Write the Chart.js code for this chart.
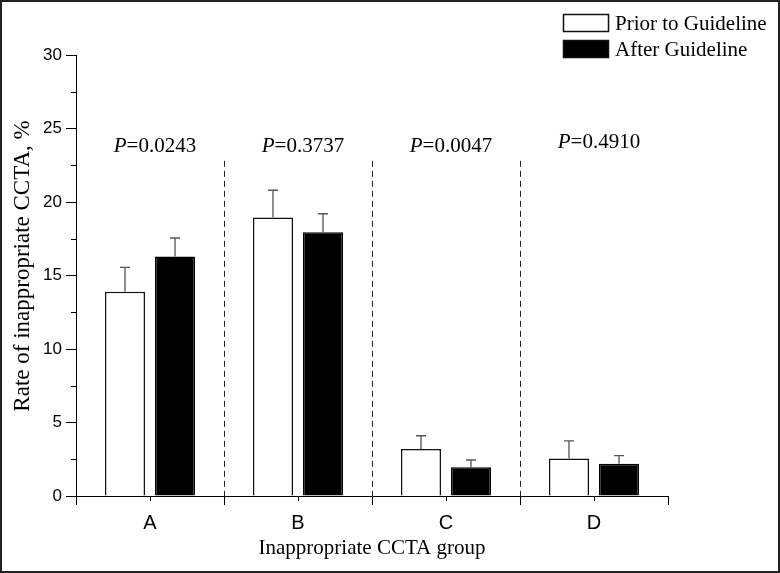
<!DOCTYPE html>
<html>
<head>
<meta charset="utf-8">
<script src="https://cdn.jsdelivr.net/npm/chart.js@4/dist/chart.umd.min.js"></script>
<style>
  html, body { margin: 0; padding: 0; background: #fff; }
  #wrap { width: 780px; height: 573px; }
</style>
</head>
<body>
<div id="wrap"><canvas id="c" width="780" height="573"></canvas></div>
<script>
// ---- data ----
const categories = ['A', 'B', 'C', 'D'];
const seriesNames = ['Prior to Guideline', 'After Guideline'];
const priorValues = [13.9, 18.95, 3.2, 2.55];
const afterValues = [16.3, 17.95, 1.95, 2.2];
const priorErrors = [1.65, 1.85, 0.9, 1.2];
const afterErrors = [1.25, 1.25, 0.5, 0.55];
const pLabels = ['0.0243', '0.3737', '0.0047', '0.4910'];
const pLabelLevel = [23.4, 23.4, 23.4, 23.7];
const yTicks = [0, 5, 10, 15, 20, 25, 30];
const yMinorTicks = [2.5, 7.5, 12.5, 17.5, 22.5, 27.5];
const dividerTop = 22.8;
const yTitle = 'Rate of inappropriate CCTA, %';
const xTitle = 'Inappropriate CCTA group';

const SERIF = '"Liberation Serif", "Times New Roman", serif';
const SANS = '"Liberation Sans", Arial, sans-serif';

const decor = {
  id: 'decor',
  afterDatasetsDraw(chart) {
    const ctx = chart.ctx;
    const x = chart.scales.x, y = chart.scales.y;
    const area = chart.chartArea;
    ctx.save();

    // error bars (upper only, with cap)
    const errSets = [priorErrors, afterErrors];
    chart.data.datasets.forEach((ds, di) => {
      const meta = chart.getDatasetMeta(di);
      meta.data.forEach((bar, i) => {
        const top = y.getPixelForValue(ds.data[i] + errSets[di][i]);
        const base = y.getPixelForValue(ds.data[i]);
        ctx.strokeStyle = '#555';
        ctx.lineWidth = 1.3;
        ctx.beginPath();
        ctx.moveTo(bar.x, base);
        ctx.lineTo(bar.x, top);
        ctx.moveTo(bar.x - 5, top);
        ctx.lineTo(bar.x + 5, top);
        ctx.stroke();
      });
    });

    // dashed dividers between groups
    ctx.strokeStyle = '#222';
    ctx.lineWidth = 1;
    ctx.setLineDash([6, 4]);
    for (let i = 0; i < categories.length - 1; i++) {
      const bx = Math.round((x.getPixelForValue(i) + x.getPixelForValue(i + 1)) / 2) + 0.5;
      ctx.beginPath();
      ctx.moveTo(bx, y.getPixelForValue(dividerTop));
      ctx.lineTo(bx, area.bottom);
      ctx.stroke();
    }
    ctx.setLineDash([]);

    // short ticks at category centres
    ctx.strokeStyle = '#000';
    ctx.lineWidth = 1;
    categories.forEach((c, i) => {
      const cx = Math.round(x.getPixelForValue(i)) + 0.5;
      ctx.beginPath();
      ctx.moveTo(cx, area.bottom);
      ctx.lineTo(cx, area.bottom + 5);
      ctx.stroke();
    });

    // minor y ticks
    yMinorTicks.forEach(v => {
      const py = Math.round(y.getPixelForValue(v)) + 0.5;
      ctx.beginPath();
      ctx.moveTo(area.left - 5, py);
      ctx.lineTo(area.left, py);
      ctx.stroke();
    });

    // P-value annotations
    ctx.fillStyle = '#000';
    ctx.textBaseline = 'alphabetic';
    categories.forEach((c, i) => {
      const italic = 'italic 21px ' + SERIF;
      const normal = '21px ' + SERIF;
      ctx.font = italic;
      const w1 = ctx.measureText('P').width;
      ctx.font = normal;
      const rest = '=' + pLabels[i];
      const w2 = ctx.measureText(rest).width;
      const cx = x.getPixelForValue(i) + 5;
      const left = cx - (w1 + w2) / 2;
      const py = y.getPixelForValue(pLabelLevel[i]);
      ctx.textAlign = 'left';
      ctx.font = italic;
      ctx.fillText('P', left, py);
      ctx.font = normal;
      ctx.fillText(rest, left + w1, py);
    });

    // y-axis title
    ctx.save();
    ctx.translate(23, 266);
    ctx.rotate(-Math.PI / 2);
    ctx.font = '23px ' + SERIF;
    ctx.textAlign = 'center';
    ctx.textBaseline = 'middle';
    ctx.fillText(yTitle, 0, 0);
    ctx.restore();

    // legend
    const legendRows = [{ y: 14, t: 30 }, { y: 40, t: 56 }];
    chart.data.datasets.forEach((ds, di) => {
      const r = legendRows[di];
      ctx.fillStyle = ds.backgroundColor;
      ctx.fillRect(563, r.y, 46, 18);
      ctx.strokeStyle = '#111';
      ctx.lineWidth = 1.5;
      ctx.strokeRect(563.5, r.y + 0.5, 45, 17);
      ctx.fillStyle = '#000';
      ctx.font = '21px ' + SERIF;
      ctx.textAlign = 'left';
      ctx.textBaseline = 'alphabetic';
      ctx.fillText(ds.label, 615, r.t);
    });

    // outer frame
    ctx.strokeStyle = '#222';
    ctx.lineWidth = 2;
    ctx.strokeRect(1, 1, 778, 571);
    ctx.restore();
  }
};

new Chart(document.getElementById('c'), {
  type: 'bar',
  data: {
    labels: categories,
    datasets: [
      { label: seriesNames[0], data: priorValues, backgroundColor: '#ffffff', borderColor: '#111', borderWidth: 1.5 },
      { label: seriesNames[1], data: afterValues, backgroundColor: '#000000', borderColor: '#000', borderWidth: 1.5 }
    ]
  },
  options: {
    responsive: false,
    animation: false,
    devicePixelRatio: 1,
    categoryPercentage: 0.676,
    barPercentage: 0.8,
    layout: { padding: { left: 0, top: 55, right: 112, bottom: 0 } },
    plugins: { legend: { display: false }, tooltip: { enabled: false } },
    scales: {
      x: {
        afterFit: s => { s.height = 77; },
        grid: { offset: true, drawOnChartArea: false, drawTicks: true, tickLength: 9, color: '#000', lineWidth: 1 },
        border: { display: true, color: '#000', width: 1 },
        ticks: { color: '#000', font: { family: SANS, size: 20 }, padding: 6 },
        title: { display: true, text: xTitle, color: '#000', font: { family: SERIF, size: 21 }, padding: { top: 0, bottom: 12 } }
      },
      y: {
        min: 0, max: 30,
        afterFit: s => { s.width = 76; },
        afterBuildTicks: s => { s.ticks = yTicks.map(v => ({ value: v })); },
        grid: { drawOnChartArea: false, drawTicks: true, tickLength: 10, color: '#000', lineWidth: 1 },
        border: { display: true, color: '#000', width: 1 },
        ticks: { color: '#000', font: { family: SANS, size: 17 }, padding: 4 }
      }
    }
  },
  plugins: [decor]
});
</script>
</body>
</html>
